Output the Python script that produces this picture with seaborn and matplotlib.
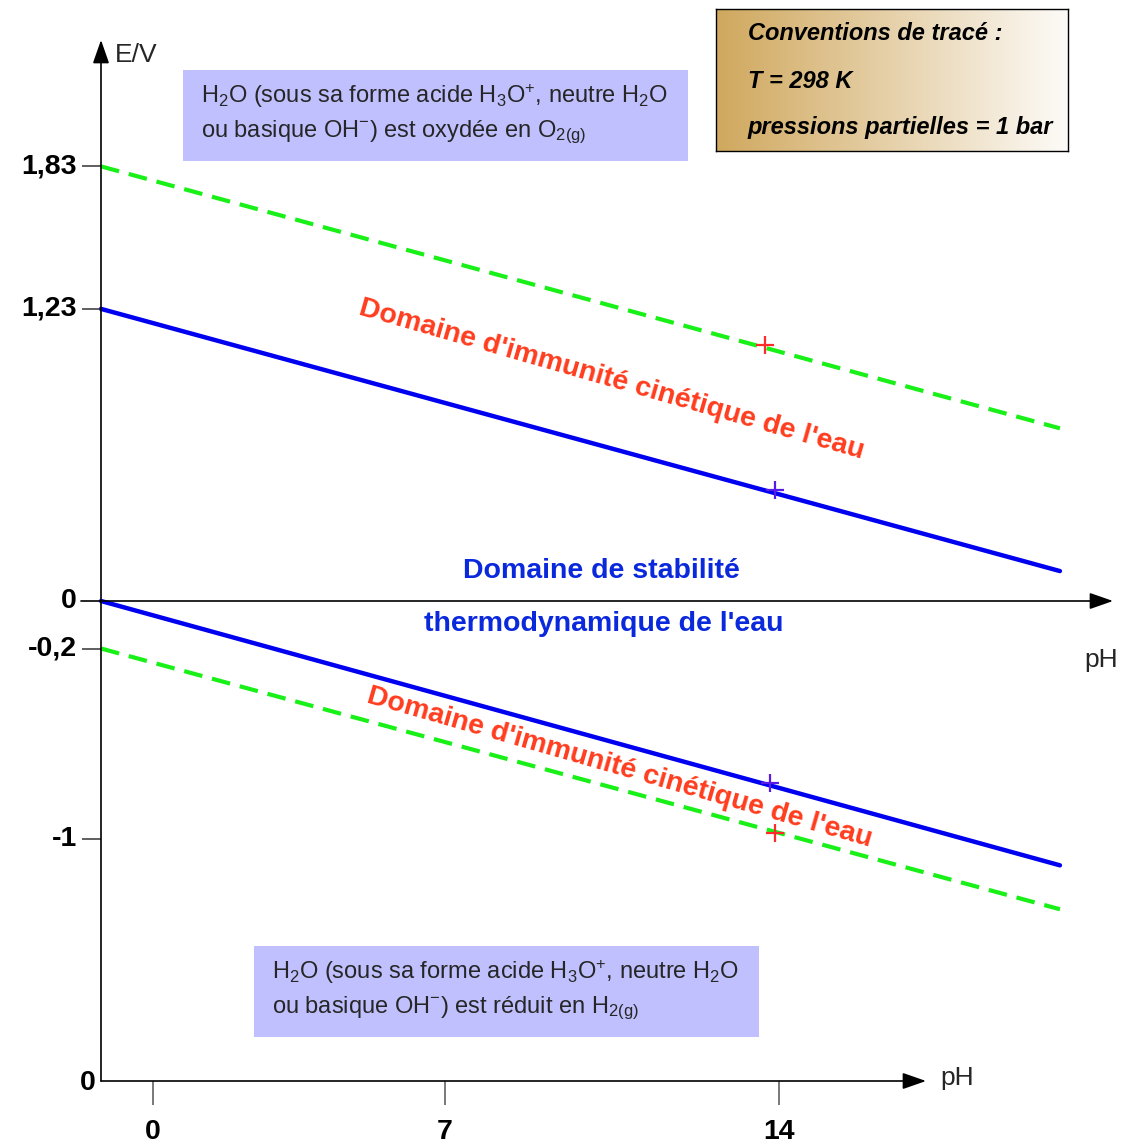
import numpy as np
import seaborn as sns
import matplotlib.pyplot as plt
from matplotlib.colors import LinearSegmentedColormap
from matplotlib.patches import Rectangle

# water stability diagram (schematic), E in V versus pH
ph_ends = [0.0, 18.7]
e_o2_thermo = [1.23, 0.126]
e_o2_kinetic = [1.83, 0.727]
e_h2_thermo = [0.0, -1.113]
e_h2_kinetic = [-0.2, -1.298]

cross_red_ph = [12.95, 13.14]
cross_red_e = [1.078, -0.977]
cross_blue_ph = [13.14, 13.05]
cross_blue_e = [0.467, -0.766]

ytick_values = [1.83, 1.23, 0, -0.2, -1]
ytick_labels = ['1,83', '1,23', '0', '-0,2', '-1']
ph_tick_labels = ['0', '7', '14']

BLUE = '#0000f0'
GREEN = '#18f018'
RED_TXT = '#ff3c1e'
BLUE_TXT = '#0a28dc'
BOX = '#c0c0ff'

sns.set_theme(style='white')
plt.rcParams['font.family'] = ['Liberation Sans', 'DejaVu Sans']
plt.rcParams['mathtext.fontset'] = 'custom'
plt.rcParams['mathtext.rm'] = 'Liberation Sans'
plt.rcParams['mathtext.it'] = 'Liberation Sans:italic'
plt.rcParams['mathtext.bf'] = 'Liberation Sans:bold'

W, H = 1129, 1147
X0, Y0 = 101, 601          # pixel position of pH 0 / E = 0
KX, KY = 51.28, 237.5      # pixels per pH unit / per volt


def X(px):
    return (px - X0) / KX


def Y(py):
    return (Y0 - py) / KY


def fx(px):
    return px / W


def fy(py):
    return 1 - py / H


fig = plt.figure(figsize=(W / 100, H / 100), dpi=100)
ax = fig.add_axes([0, 0, 1, 1])
ax.set_xlim(X(0), X(W))
ax.set_ylim(Y(H), Y(0))
ax.axis('off')

# boundary lines
sns.lineplot(x=ph_ends, y=e_o2_kinetic, ax=ax, color=GREEN, linewidth=3.0,
             linestyle=(0, (4.5, 2.4)), dash_capstyle='butt')
sns.lineplot(x=ph_ends, y=e_o2_thermo, ax=ax, color=BLUE, linewidth=3.2)
sns.lineplot(x=ph_ends, y=e_h2_thermo, ax=ax, color=BLUE, linewidth=3.2)
sns.lineplot(x=ph_ends, y=e_h2_kinetic, ax=ax, color=GREEN, linewidth=3.0,
             linestyle=(0, (4.5, 2.4)), dash_capstyle='butt')

sns.scatterplot(x=cross_red_ph, y=cross_red_e, ax=ax, marker='+', s=160,
                color='#ff2a2a', linewidth=1.6, zorder=5)
sns.scatterplot(x=cross_blue_ph, y=cross_blue_e, ax=ax, marker='+', s=160,
                color='#5a1ae6', linewidth=1.6, zorder=5)

# axes with arrows
arrow = dict(arrowstyle='-|>,head_length=0.8,head_width=0.28', color='black',
             lw=1.2, mutation_scale=18, shrinkA=0, shrinkB=0)
ax.annotate('', xy=(0, Y(40)), xytext=(0, Y(1081)), arrowprops=arrow)
ax.annotate('', xy=(X(1113), 0), xytext=(X(81), 0), arrowprops=arrow)
ax.annotate('', xy=(X(926), Y(1081)), xytext=(0, Y(1081)), arrowprops=arrow)

# y ticks
ax.hlines([v for v in ytick_values if v != 0], X(82), 0, color='#333333', lw=1.1)
for v, lab in zip(ytick_values, ytick_labels):
    ax.text(X(77), v, lab, ha='right', va='center', fontsize=20.5,
            fontweight='bold', color='black')
ax.text(X(96), Y(1083), '0', ha='right', va='center', fontsize=20.5,
        fontweight='bold', color='black')

# lower pH ticks (schematic)
tick_px = [153, 445, 779]
for px, lab in zip(tick_px, ph_tick_labels):
    ax.vlines(X(px), Y(1105), Y(1081), color='#555555', lw=1.1)
    ax.text(X(px), Y(1132), lab, ha='center', va='center', fontsize=20.5,
            fontweight='bold', color='black')

ax.text(X(115), Y(55), 'E/V', ha='left', va='center', fontsize=19)
ax.text(X(1118), Y(660), 'pH', ha='right', va='center', fontsize=19)
ax.text(X(940), Y(1078), 'pH', ha='left', va='center', fontsize=19)

# domain labels
ax.text(X(612), Y(380), "Domaine d'immunité cinétique de l'eau", rotation=-16,
        rotation_mode='anchor', ha='center', va='center', fontsize=20.5,
        fontweight='bold', color=RED_TXT)
ax.text(X(620), Y(768), "Domaine d'immunité cinétique de l'eau", rotation=-16,
        rotation_mode='anchor', ha='center', va='center', fontsize=20.5,
        fontweight='bold', color=RED_TXT)
ax.text(X(601), Y(571), 'Domaine de stabilité', ha='center', va='center',
        fontsize=20.5, fontweight='bold', color=BLUE_TXT)
ax.text(X(604), Y(624), "thermodynamique de l'eau", ha='center', va='center',
        fontsize=20.5, fontweight='bold', color=BLUE_TXT)

# info boxes
line1 = r'H$_2$O (sous sa forme acide H$_3$O$^{+}$, neutre H$_2$O'
for (bx0, by0, bx1, by1), last in [((183, 70, 688, 161), r'ou basique OH$^{\mathrm{-}}$) est oxydée en O$_{\mathrm{2(g)}}$'),
                                   ((254, 946, 759, 1037), r'ou basique OH$^{\mathrm{-}}$) est réduit en H$_{\mathrm{2(g)}}$')]:
    ax.add_patch(Rectangle((X(bx0), Y(by1)), X(bx1) - X(bx0), Y(by0) - Y(by1),
                           facecolor=BOX, edgecolor='none', zorder=1))
    ax.text(X(bx0 + 18), Y(by0 + 26), line1, ha='left', va='center', fontsize=17, zorder=2)
    ax.text(X(bx0 + 18), Y(by0 + 62), last, ha='left', va='center', fontsize=17, zorder=2)

# conventions box with gradient
lax = fig.add_axes([fx(716), fy(151), fx(1068) - fx(716), (151 - 9) / H])
cmap = LinearSegmentedColormap.from_list('sand', ['#d0a85e', '#e6d1aa', '#fdfbf8'])
lax.imshow(np.linspace(0, 1, 256)[None, :], aspect='auto', cmap=cmap, extent=[0, 1, 0, 1])
lax.set_xticks([])
lax.set_yticks([])
for sp in lax.spines.values():
    sp.set_visible(True)
    sp.set_color('black')
    sp.set_linewidth(1.0)
for py, txt in [(34, 'Conventions de tracé :'), (81, 'T = 298 K'),
                (128, 'pressions partielles = 1 bar')]:
    fig.text(fx(748), fy(py), txt, ha='left', va='center', fontsize=17,
             fontweight='bold', fontstyle='italic', color='black')

fig.savefig('out.png', dpi=100)
